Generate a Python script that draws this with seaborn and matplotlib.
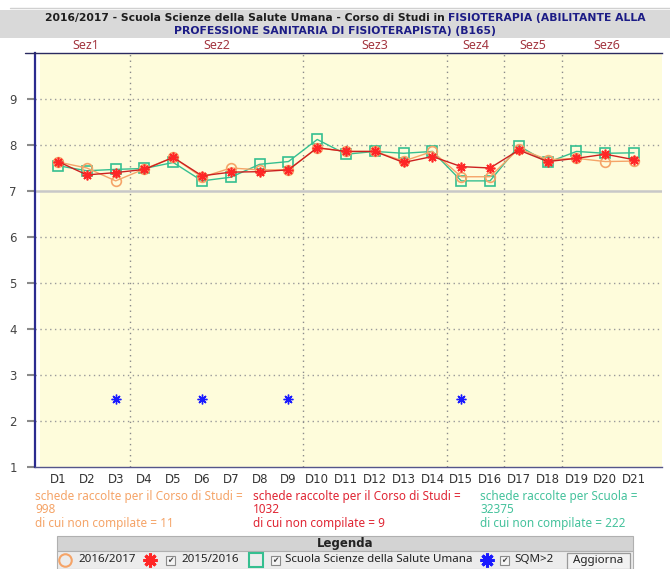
import numpy as np
import pandas as pd
import matplotlib
matplotlib.use("Agg")
import matplotlib.pyplot as plt
from matplotlib.patches import Rectangle
from matplotlib.lines import Line2D
import seaborn as sns

# --- data -------------------------------------------------------------
domande = [f"D{i}" for i in range(1, 22)]
media_2016_2017 = [7.63, 7.50, 7.22, 7.48, 7.73, 7.30, 7.50, 7.46, 7.46, 7.94, 7.86,
                   7.86, 7.65, 7.86, 7.31, 7.31, 7.92, 7.68, 7.71, 7.64, 7.65]
media_2015_2016 = [7.64, 7.35, 7.40, 7.47, 7.73, 7.33, 7.41, 7.42, 7.46, 7.94, 7.86,
                   7.86, 7.62, 7.75, 7.53, 7.50, 7.89, 7.64, 7.71, 7.80, 7.68]
media_scuola = [7.55, 7.44, 7.47, 7.49, 7.62, 7.22, 7.30, 7.58, 7.64, 8.12, 7.80,
                7.86, 7.82, 7.86, 7.22, 7.22, 7.98, 7.62, 7.86, 7.82, 7.83]
sqm_domande = ["D3", "D6", "D9", "D15"]
sqm_livello = [2.47, 2.47, 2.47, 2.47]

sezioni = ["Sez1", "Sez2", "Sez3", "Sez4", "Sez5", "Sez6"]
sezioni_fine = ["D3", "D9", "D14", "D16", "D18", "D21"]

y_ticks = [1, 2, 3, 4, 5, 6, 7, 8, 9]

schede = [
    ("schede raccolte per il Corso di Studi =", "998", "di cui non compilate = 11"),
    ("schede raccolte per il Corso di Studi =", "1032", "di cui non compilate = 9"),
    ("schede raccolte per Scuola =", "32375", "di cui non compilate = 222"),
]

# --- colours -----------------------------------------------------------
C_ORANGE = "#f5a468"
C_RED_LINE = "#cc2020"
C_RED = "#ff2626"
C_GREEN = "#35bf90"
C_BLUE = "#1a1aff"
C_NAVY = "#1c1c86"
C_SEZ = "#a33640"
C_BG = "#fefcdb"

W, H = 670, 569
sns.set_theme(style="white")
plt.rcParams["font.family"] = ["DejaVu Sans"]
TXT_FONT = ["Noto Sans", "DejaVu Sans"]
BOLD_FONT = ["DejaVu Sans"]

fig = plt.figure(figsize=(W / 100, H / 100), dpi=100)
fig.patch.set_facecolor("white")

# main plot area, in pixel bounds
L, R, T, B = 35, 662, 53, 467
ax = fig.add_axes([L / W, (H - B) / H, (R - L) / W, (B - T) / H])
ax.set_facecolor("white")

x = np.arange(len(domande))
df = pd.DataFrame({"x": x, "a2016": media_2016_2017, "a2015": media_2015_2016,
                   "scuola": media_scuola})

x_lo, x_hi = -0.8, 20.97
ax.axvspan(-0.63, x_hi, color=C_BG, zorder=0, lw=0)

# grid
for g in y_ticks[1:]:
    if g == 7:
        ax.axhline(g, color="#c8c8c8", lw=1.8, zorder=1)
    else:
        ax.axhline(g, color="#9a9a9a", lw=1, ls=(0, (1, 2.5)), zorder=1)

bounds = [domande.index(d) + 0.5 for d in sezioni_fine[:-1]]
for bx in bounds:
    ax.axvline(bx, color="#8a8a8a", lw=1, ls=(0, (1, 3)), zorder=1)

# series
sns.lineplot(data=df, x="x", y="scuola", ax=ax, color=C_GREEN, lw=1,
             marker="s", markersize=7, markerfacecolor="none",
             markeredgecolor=C_GREEN, markeredgewidth=1.2, zorder=3)
sns.lineplot(data=df, x="x", y="a2016", ax=ax, color=C_ORANGE, lw=1,
             marker="o", markersize=7, markerfacecolor="none",
             markeredgecolor=C_ORANGE, markeredgewidth=1.2, zorder=4)
sns.lineplot(data=df, x="x", y="a2015", ax=ax, color=C_RED_LINE, lw=1,
             marker=(8, 2, 0), markersize=7, markeredgecolor=C_RED,
             markeredgewidth=1.2, zorder=5)

df_sqm = pd.DataFrame({"x": [domande.index(d) for d in sqm_domande], "y": sqm_livello})
sns.lineplot(data=df_sqm, x="x", y="y", ax=ax, color=C_BLUE, linestyle="",
             marker=(8, 2, 0), markersize=7, markeredgecolor=C_BLUE,
             markeredgewidth=1.0, zorder=5)

ax.set_xlim(x_lo, x_hi)
ax.set_ylim(1, 10)
ax.set_xticks(x)
ax.set_xticklabels(domande)
ax.set_yticks(y_ticks)
ax.set_xlabel("")
ax.set_ylabel("")
ax.tick_params(axis="x", length=0, pad=4, labelsize=8.5, labelcolor="#333333")
ax.tick_params(axis="y", length=6, width=1.5, color="#8a8a8a", pad=7,
               labelsize=8.5, labelcolor="#444444", left=True)
ax.spines["right"].set_visible(False)
ax.spines["left"].set_color("#2b2b90")
ax.spines["left"].set_linewidth(1.6)
ax.spines["bottom"].set_color("#55558a")
ax.spines["bottom"].set_linewidth(1)
ax.spines["top"].set_color("#2a2a60")
ax.spines["top"].set_linewidth(1)

# section labels
starts = [x_lo + 0.2] + bounds
ends = bounds + [20.6]
for name, s0, s1 in zip(sezioni, starts, ends):
    ax.text((s0 + s1) / 2, 1.017, name, transform=ax.get_xaxis_transform(),
            ha="center", va="center", fontsize=9, color=C_SEZ, family=TXT_FONT)

# --- overlay in pixel coordinates --------------------------------------
ov = fig.add_axes([0, 0, 1, 1])
ov.set_xlim(0, W)
ov.set_ylim(H, 0)
ov.set_axis_off()
ov.patch.set_alpha(0)

renderer = fig.canvas.get_renderer()


def text_width(s, size, weight="normal"):
    fam = BOLD_FONT if weight == "bold" else TXT_FONT
    t = ov.text(0, 0, s, fontsize=size, fontweight=weight, family=fam)
    w = t.get_window_extent(renderer).width
    t.remove()
    return w


def fit_size(s, target, weight="normal"):
    return 10 * target / text_width(s, 10, weight)


def label(xp, yp, s, size, color="#222222", weight="normal", ha="left"):
    fam = BOLD_FONT if weight == "bold" else TXT_FONT
    ov.text(xp, yp, s, fontsize=size, fontweight=weight, color=color,
            ha=ha, va="center", family=fam)


# title band
ov.add_line(Line2D([10, W], [8, 8], color="#d0d0d0", lw=1))
ov.add_patch(Rectangle((0, 10), W, 28, facecolor="#d9d9d9", edgecolor="none"))
line1 = [("2016/2017 - Scuola Scienze della Salute Umana - Corso di Studi in ", "#1e1e1e"),
         ("FISIOTERAPIA (ABILITANTE ALLA", C_NAVY)]
line2 = "PROFESSIONE SANITARIA DI FISIOTERAPISTA) (B165)"
full1 = "".join(p for p, _ in line1)
ts = fit_size(full1, 601, "bold")
widths = [text_width(p, ts, "bold") for p, _ in line1]
x0 = 345.5 - sum(widths) / 2
for (p, c), w in zip(line1, widths):
    label(x0, 18, p, ts, c, "bold")
    x0 += w
label(335, 31, line2, ts, C_NAVY, "bold", ha="center")

# top rule extends left of the axis
ov.add_line(Line2D([25, L], [T, T], color="#2a2a60", lw=1))

# collected forms text
fs = fit_size(schede[0][0], 207)
for (l1, l2, l3), xc, col in zip(schede, [35, 253, 480], [C_ORANGE, "#e02634", "#45c29c"]):
    for yy, s in zip([496, 509.5, 523], [l1, l2, l3]):
        label(xc, yy, s, fs, col)

# legend box
ov.add_patch(Rectangle((57, 536), 576, 15, facecolor="#d3d3d3", edgecolor="#b0b0b0", lw=0.8))
ov.add_patch(Rectangle((57, 551), 576, 18, facecolor="#ececec", edgecolor="#b0b0b0", lw=0.8))
label(345, 543.5, "Legenda", 8.5, "#222222", "bold", ha="center")

ry = 560
lfs = fit_size("Scuola Scienze della Salute Umana", 188)


def checkbox(cx):
    ov.add_patch(Rectangle((cx - 4.5, ry - 4.5), 9, 9, facecolor="#f4f4f4",
                           edgecolor="#8a8a8a", lw=0.8))
    ov.text(cx, ry + 0.5, "\u2714", fontsize=5.5, color="#444444", ha="center", va="center")


ov.add_line(Line2D([65], [ry], marker="o", markersize=9, markerfacecolor="none",
                   markeredgecolor=C_ORANGE, markeredgewidth=1.5))
label(78, ry, "2016/2017", lfs)
ov.add_line(Line2D([150], [ry], marker=(8, 2, 0), markersize=10,
                   markeredgecolor=C_RED, markeredgewidth=2.2))
checkbox(170)
label(181, ry, "2015/2016", lfs)
ov.add_line(Line2D([256], [ry], marker="s", markersize=10, markerfacecolor="none",
                   markeredgecolor=C_GREEN, markeredgewidth=1.5))
checkbox(275)
label(285, ry, "Scuola Scienze della Salute Umana", lfs)
ov.add_line(Line2D([487], [ry], marker=(8, 2, 0), markersize=10,
                   markeredgecolor=C_BLUE, markeredgewidth=2.2))
checkbox(504)
label(514, ry, "SQM>2", lfs)
ov.add_patch(Rectangle((567, 552.5), 63, 16.5, facecolor="#f2f2f2",
                       edgecolor="#9a9a9a", lw=0.9))
label(598.5, ry + 0.5, "Aggiorna", lfs, ha="center")

fig.savefig("out.png", dpi=100)
